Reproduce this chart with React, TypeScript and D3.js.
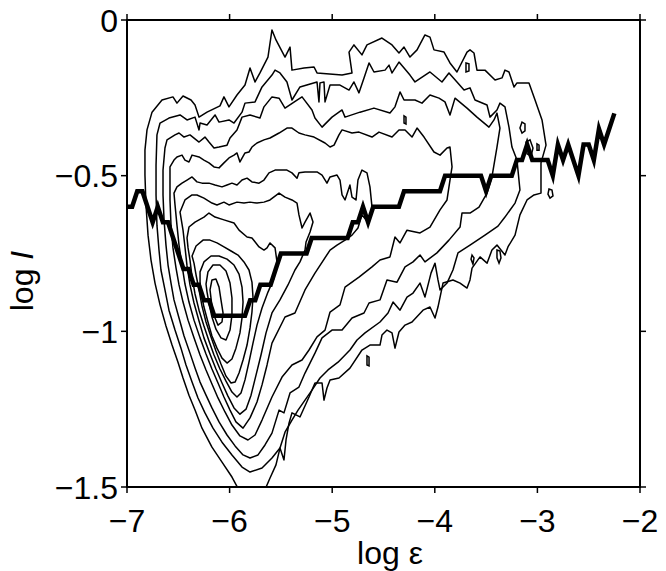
import React from 'react';
import * as d3 from 'd3';

const W = 666;
const H = 571;
const PLOT = { left: 127, right: 640, top: 20, bottom: 487 };

const X_DOMAIN: [number, number] = [-7, -2];
const Y_DOMAIN: [number, number] = [-1.5, 0];
const X_TICKS = [-7, -6, -5, -4, -3, -2];
const Y_TICKS = [0, -0.5, -1, -1.5];
const X_TICK_LABELS = ['\u22127', '\u22126', '\u22125', '\u22124', '\u22123', '\u22122'];
const Y_TICK_LABELS = ['0', '\u22120.5', '\u22121', '\u22121.5'];

// contour loops, [log eps, log I], outermost first
const CONTOUR_1 = [[-6.805,-0.353],[-6.756,-0.296],[-6.659,-0.257],[-6.552,-0.247],[-6.513,-0.267],[-6.454,-0.244],[-6.376,-0.257],[-6.337,-0.273],[-6.298,-0.312],[-6.220,-0.296],[-6.094,-0.276],[-6.055,-0.247],[-6.006,-0.279],[-5.928,-0.241],[-5.850,-0.209],[-5.801,-0.154],[-5.752,-0.199],[-5.704,-0.170],[-5.626,-0.119],[-5.587,-0.032],[-5.548,-0.064],[-5.460,-0.119],[-5.411,-0.087],[-5.392,-0.161],[-5.275,-0.154],[-5.177,-0.151],[-5.148,-0.170],[-4.904,-0.177],[-4.807,-0.170],[-4.836,-0.103],[-4.788,-0.080],[-4.710,-0.112],[-4.661,-0.080],[-4.515,-0.058],[-4.417,-0.080],[-4.349,-0.106],[-4.300,-0.087],[-4.242,-0.119],[-4.173,-0.096],[-4.096,-0.048],[-4.047,-0.055],[-4.008,-0.096],[-3.910,-0.103],[-3.852,-0.138],[-3.784,-0.167],[-3.686,-0.103],[-3.657,-0.096],[-3.618,-0.106],[-3.589,-0.161],[-3.511,-0.161],[-3.413,-0.193],[-3.345,-0.186],[-3.316,-0.161],[-3.277,-0.167],[-3.228,-0.215],[-3.199,-0.202],[-3.082,-0.202],[-3.023,-0.257],[-2.955,-0.321],[-2.916,-0.402],[-2.965,-0.459],[-2.965,-0.556],[-3.033,-0.562],[-3.101,-0.578],[-3.170,-0.626],[-3.218,-0.691],[-3.287,-0.729],[-3.316,-0.755],[-3.394,-0.723],[-3.443,-0.739],[-3.491,-0.781],[-3.559,-0.761],[-3.637,-0.797],[-3.657,-0.835],[-3.686,-0.861],[-3.754,-0.845],[-3.823,-0.835],[-3.920,-0.845],[-3.969,-0.922],[-3.998,-0.957],[-4.047,-0.922],[-4.115,-0.932],[-4.222,-0.970],[-4.290,-0.980],[-4.349,-1.002],[-4.388,-1.054],[-4.417,-1.005],[-4.466,-0.996],[-4.515,-1.012],[-4.534,-1.044],[-4.632,-1.044],[-4.710,-1.060],[-4.827,-1.118],[-4.934,-1.150],[-5.021,-1.156],[-5.051,-1.182],[-5.080,-1.221],[-5.099,-1.166],[-5.168,-1.166],[-5.226,-1.211],[-5.314,-1.275],[-5.392,-1.262],[-5.421,-1.295],[-5.450,-1.349],[-5.470,-1.413],[-5.509,-1.375],[-5.548,-1.429],[-5.606,-1.471],[-5.665,-1.516],[-5.899,-1.516],[-5.977,-1.468],[-6.074,-1.420],[-6.172,-1.372],[-6.269,-1.311],[-6.337,-1.253],[-6.396,-1.205],[-6.454,-1.150],[-6.503,-1.099],[-6.561,-1.044],[-6.620,-0.983],[-6.678,-0.915],[-6.727,-0.845],[-6.766,-0.771],[-6.795,-0.691],[-6.815,-0.594],[-6.825,-0.498],[-6.825,-0.418]];

const CONTOUR_2 = [[-6.708,-0.369],[-6.678,-0.331],[-6.591,-0.315],[-6.483,-0.305],[-6.415,-0.321],[-6.337,-0.312],[-6.298,-0.353],[-6.288,-0.331],[-6.220,-0.337],[-6.142,-0.305],[-6.103,-0.328],[-6.006,-0.321],[-5.957,-0.331],[-5.879,-0.296],[-5.850,-0.267],[-5.752,-0.263],[-5.684,-0.215],[-5.587,-0.177],[-5.557,-0.161],[-5.509,-0.170],[-5.441,-0.199],[-5.392,-0.257],[-5.314,-0.215],[-5.148,-0.199],[-5.129,-0.263],[-5.119,-0.202],[-5.080,-0.199],[-5.070,-0.263],[-5.021,-0.209],[-4.924,-0.209],[-4.836,-0.225],[-4.788,-0.199],[-4.739,-0.234],[-4.690,-0.186],[-4.641,-0.138],[-4.593,-0.167],[-4.485,-0.161],[-4.446,-0.145],[-4.417,-0.170],[-4.349,-0.135],[-4.242,-0.177],[-4.193,-0.199],[-4.047,-0.167],[-3.930,-0.199],[-3.862,-0.170],[-3.784,-0.199],[-3.715,-0.225],[-3.657,-0.218],[-3.608,-0.257],[-3.491,-0.273],[-3.462,-0.312],[-3.394,-0.289],[-3.365,-0.267],[-3.316,-0.279],[-3.277,-0.344],[-3.248,-0.408],[-3.199,-0.450],[-3.170,-0.546],[-3.218,-0.588],[-3.316,-0.633],[-3.384,-0.662],[-3.511,-0.691],[-3.657,-0.723],[-3.774,-0.748],[-3.823,-0.803],[-3.881,-0.845],[-3.949,-0.867],[-3.969,-0.835],[-3.998,-0.781],[-4.037,-0.813],[-4.096,-0.890],[-4.144,-0.845],[-4.212,-0.877],[-4.271,-0.890],[-4.339,-0.932],[-4.407,-0.906],[-4.456,-0.941],[-4.534,-0.970],[-4.680,-1.005],[-4.758,-1.028],[-4.827,-1.060],[-4.943,-1.099],[-5.041,-1.124],[-5.119,-1.150],[-5.197,-1.189],[-5.265,-1.221],[-5.333,-1.253],[-5.392,-1.285],[-5.460,-1.324],[-5.509,-1.375],[-5.587,-1.407],[-5.684,-1.439],[-5.801,-1.452],[-5.879,-1.436],[-5.977,-1.397],[-6.074,-1.356],[-6.162,-1.311],[-6.240,-1.262],[-6.308,-1.214],[-6.366,-1.163],[-6.425,-1.108],[-6.474,-1.054],[-6.532,-0.996],[-6.591,-0.932],[-6.630,-0.867],[-6.669,-0.803],[-6.688,-0.739],[-6.708,-0.659],[-6.717,-0.562],[-6.717,-0.466]];

const CONTOUR_3 = [[-6.630,-0.411],[-6.610,-0.385],[-6.532,-0.369],[-6.493,-0.363],[-6.444,-0.376],[-6.386,-0.369],[-6.298,-0.392],[-6.240,-0.376],[-6.201,-0.392],[-6.152,-0.411],[-6.103,-0.408],[-6.025,-0.402],[-5.996,-0.379],[-5.928,-0.353],[-5.879,-0.312],[-5.801,-0.305],[-5.704,-0.315],[-5.665,-0.279],[-5.587,-0.247],[-5.518,-0.251],[-5.460,-0.283],[-5.343,-0.257],[-5.294,-0.247],[-5.197,-0.289],[-5.168,-0.315],[-5.099,-0.344],[-5.002,-0.312],[-4.904,-0.289],[-4.875,-0.312],[-4.729,-0.296],[-4.593,-0.283],[-4.437,-0.299],[-4.388,-0.279],[-4.339,-0.231],[-4.300,-0.257],[-4.193,-0.257],[-4.125,-0.267],[-4.047,-0.241],[-3.959,-0.251],[-3.901,-0.263],[-3.852,-0.305],[-3.803,-0.251],[-3.686,-0.283],[-3.589,-0.312],[-3.472,-0.344],[-3.423,-0.321],[-3.394,-0.299],[-3.365,-0.347],[-3.394,-0.408],[-3.443,-0.504],[-3.491,-0.556],[-3.569,-0.601],[-3.657,-0.620],[-3.735,-0.620],[-3.754,-0.665],[-3.862,-0.707],[-3.979,-0.748],[-4.096,-0.777],[-4.144,-0.755],[-4.212,-0.777],[-4.290,-0.793],[-4.368,-0.842],[-4.466,-0.835],[-4.534,-0.899],[-4.641,-0.909],[-4.690,-0.941],[-4.807,-0.957],[-4.904,-0.996],[-5.002,-0.996],[-5.099,-1.021],[-5.168,-1.070],[-5.265,-1.134],[-5.324,-1.179],[-5.411,-1.198],[-5.470,-1.262],[-5.518,-1.253],[-5.587,-1.327],[-5.655,-1.365],[-5.723,-1.397],[-5.801,-1.407],[-5.869,-1.397],[-5.947,-1.368],[-6.025,-1.333],[-6.103,-1.291],[-6.172,-1.246],[-6.230,-1.205],[-6.288,-1.163],[-6.337,-1.118],[-6.386,-1.070],[-6.444,-1.015],[-6.493,-0.957],[-6.542,-0.899],[-6.571,-0.845],[-6.600,-0.787],[-6.620,-0.723],[-6.639,-0.642],[-6.649,-0.562],[-6.649,-0.482]];

const CONTOUR_4 = [[-6.581,-0.472],[-6.542,-0.450],[-6.513,-0.440],[-6.464,-0.434],[-6.435,-0.450],[-6.396,-0.456],[-6.366,-0.434],[-6.298,-0.440],[-6.250,-0.450],[-6.201,-0.459],[-6.152,-0.472],[-6.103,-0.475],[-6.055,-0.459],[-6.006,-0.443],[-5.957,-0.434],[-5.928,-0.427],[-5.899,-0.456],[-5.850,-0.427],[-5.811,-0.424],[-5.782,-0.408],[-5.733,-0.395],[-5.665,-0.385],[-5.606,-0.379],[-5.518,-0.363],[-5.441,-0.347],[-5.392,-0.347],[-5.324,-0.363],[-5.265,-0.369],[-5.177,-0.376],[-5.070,-0.395],[-5.021,-0.408],[-4.982,-0.402],[-4.934,-0.369],[-4.904,-0.353],[-4.807,-0.363],[-4.739,-0.360],[-4.612,-0.376],[-4.544,-0.360],[-4.417,-0.376],[-4.349,-0.353],[-4.290,-0.353],[-4.222,-0.376],[-4.173,-0.347],[-4.105,-0.376],[-4.008,-0.424],[-3.949,-0.434],[-3.881,-0.411],[-3.852,-0.408],[-3.832,-0.472],[-3.852,-0.514],[-3.881,-0.578],[-3.949,-0.610],[-4.047,-0.665],[-4.144,-0.684],[-4.271,-0.675],[-4.339,-0.716],[-4.388,-0.697],[-4.437,-0.761],[-4.534,-0.771],[-4.612,-0.793],[-4.739,-0.826],[-4.875,-0.858],[-4.924,-0.915],[-5.021,-0.938],[-5.070,-0.996],[-5.148,-1.018],[-5.226,-1.060],[-5.294,-1.092],[-5.392,-1.108],[-5.489,-1.147],[-5.587,-1.211],[-5.684,-1.285],[-5.752,-1.333],[-5.821,-1.349],[-5.899,-1.336],[-5.977,-1.301],[-6.045,-1.259],[-6.113,-1.214],[-6.172,-1.169],[-6.230,-1.124],[-6.288,-1.076],[-6.347,-1.021],[-6.405,-0.964],[-6.454,-0.906],[-6.493,-0.851],[-6.522,-0.797],[-6.552,-0.732],[-6.571,-0.659],[-6.581,-0.578],[-6.581,-0.514]];

const CONTOUR_5 = [[-6.542,-0.556],[-6.513,-0.536],[-6.464,-0.524],[-6.415,-0.514],[-6.366,-0.504],[-6.318,-0.520],[-6.269,-0.524],[-6.201,-0.524],[-6.142,-0.530],[-6.074,-0.536],[-6.025,-0.530],[-5.977,-0.524],[-5.928,-0.530],[-5.879,-0.514],[-5.830,-0.508],[-5.782,-0.520],[-5.713,-0.524],[-5.665,-0.514],[-5.616,-0.491],[-5.557,-0.482],[-5.441,-0.482],[-5.392,-0.491],[-5.343,-0.508],[-5.324,-0.491],[-5.265,-0.488],[-5.148,-0.488],[-5.099,-0.498],[-5.051,-0.524],[-5.021,-0.504],[-4.953,-0.498],[-4.924,-0.514],[-4.904,-0.562],[-4.875,-0.578],[-4.827,-0.530],[-4.807,-0.569],[-4.768,-0.578],[-4.749,-0.514],[-4.710,-0.482],[-4.661,-0.491],[-4.632,-0.536],[-4.612,-0.601],[-4.651,-0.649],[-4.710,-0.626],[-4.749,-0.668],[-4.807,-0.691],[-4.875,-0.707],[-4.953,-0.723],[-5.021,-0.739],[-5.168,-0.813],[-5.265,-0.867],[-5.363,-0.941],[-5.460,-0.954],[-5.587,-1.038],[-5.635,-1.108],[-5.684,-1.172],[-5.733,-1.227],[-5.801,-1.278],[-5.869,-1.311],[-5.938,-1.291],[-5.996,-1.253],[-6.055,-1.211],[-6.113,-1.166],[-6.172,-1.121],[-6.230,-1.073],[-6.288,-1.021],[-6.347,-0.964],[-6.396,-0.906],[-6.435,-0.848],[-6.464,-0.787],[-6.493,-0.723],[-6.513,-0.659],[-6.532,-0.594]];

const CONTOUR_6 = [[-6.483,-0.617],[-6.435,-0.578],[-6.366,-0.562],[-6.318,-0.562],[-6.250,-0.572],[-6.172,-0.588],[-6.123,-0.594],[-6.055,-0.585],[-6.006,-0.594],[-5.928,-0.585],[-5.860,-0.588],[-5.801,-0.585],[-5.733,-0.588],[-5.665,-0.585],[-5.606,-0.578],[-5.518,-0.556],[-5.460,-0.569],[-5.392,-0.578],[-5.343,-0.588],[-5.324,-0.626],[-5.294,-0.668],[-5.265,-0.649],[-5.216,-0.620],[-5.187,-0.649],[-5.216,-0.681],[-5.255,-0.713],[-5.265,-0.739],[-5.314,-0.777],[-5.363,-0.803],[-5.431,-0.851],[-5.509,-0.899],[-5.587,-0.941],[-5.645,-1.005],[-5.694,-1.076],[-5.742,-1.140],[-5.791,-1.205],[-5.840,-1.250],[-5.899,-1.266],[-5.957,-1.246],[-6.016,-1.208],[-6.074,-1.166],[-6.133,-1.121],[-6.191,-1.073],[-6.250,-1.021],[-6.298,-0.967],[-6.347,-0.909],[-6.386,-0.851],[-6.415,-0.790],[-6.435,-0.729],[-6.454,-0.675]];

const CONTOUR_7 = [[-6.415,-0.700],[-6.396,-0.665],[-6.337,-0.649],[-6.250,-0.633],[-6.201,-0.620],[-6.142,-0.633],[-6.055,-0.642],[-5.957,-0.652],[-5.908,-0.675],[-5.830,-0.697],[-5.782,-0.700],[-5.713,-0.729],[-5.665,-0.739],[-5.635,-0.732],[-5.606,-0.716],[-5.557,-0.732],[-5.538,-0.777],[-5.567,-0.829],[-5.626,-0.874],[-5.684,-0.925],[-5.733,-0.980],[-5.772,-1.038],[-5.811,-1.099],[-5.850,-1.156],[-5.889,-1.198],[-5.928,-1.211],[-5.977,-1.195],[-6.035,-1.160],[-6.094,-1.121],[-6.152,-1.076],[-6.201,-1.031],[-6.250,-0.983],[-6.298,-0.932],[-6.337,-0.880],[-6.366,-0.826],[-6.386,-0.771],[-6.405,-0.732]];

const CONTOUR_8 = [[-6.366,-0.758],[-6.327,-0.726],[-6.259,-0.707],[-6.191,-0.707],[-6.123,-0.716],[-6.055,-0.729],[-5.986,-0.742],[-5.918,-0.755],[-5.860,-0.777],[-5.811,-0.803],[-5.782,-0.842],[-5.772,-0.890],[-5.782,-0.938],[-5.801,-0.989],[-5.830,-1.044],[-5.869,-1.092],[-5.908,-1.134],[-5.947,-1.163],[-5.986,-1.166],[-6.035,-1.144],[-6.084,-1.105],[-6.133,-1.063],[-6.181,-1.018],[-6.230,-0.970],[-6.269,-0.919],[-6.298,-0.867],[-6.327,-0.819],[-6.347,-0.781]];

const CONTOUR_9 = [[-6.288,-0.809],[-6.250,-0.777],[-6.181,-0.758],[-6.103,-0.758],[-6.025,-0.768],[-5.957,-0.787],[-5.908,-0.816],[-5.879,-0.858],[-5.869,-0.906],[-5.879,-0.957],[-5.899,-1.005],[-5.938,-1.054],[-5.977,-1.089],[-6.025,-1.102],[-6.074,-1.086],[-6.123,-1.054],[-6.172,-1.015],[-6.211,-0.970],[-6.250,-0.922],[-6.279,-0.874],[-6.288,-0.842]];

const CONTOUR_10 = [[-6.230,-0.848],[-6.211,-0.809],[-6.162,-0.787],[-6.094,-0.787],[-6.035,-0.806],[-5.996,-0.845],[-5.977,-0.893],[-5.977,-0.948],[-5.996,-0.996],[-6.035,-1.028],[-6.084,-1.021],[-6.133,-0.993],[-6.172,-0.954],[-6.201,-0.909],[-6.220,-0.874]];

const CONTOUR_11 = [[-6.191,-0.867],[-6.172,-0.835],[-6.133,-0.832],[-6.103,-0.858],[-6.084,-0.899],[-6.064,-0.941],[-6.074,-0.970],[-6.113,-0.980],[-6.142,-0.957],[-6.172,-0.919]];

// small isolated islands
const ISLANDS = [
  [[-3.394,-0.739],[-3.365,-0.742],[-3.355,-0.764],[-3.374,-0.781],[-3.394,-0.764]],
  [[-3.637,-0.755],[-3.618,-0.764],[-3.628,-0.784],[-3.647,-0.768]],
  [[-2.887,-0.543],[-2.858,-0.546],[-2.848,-0.565],[-2.877,-0.572],[-2.897,-0.559]],
  [[-3.150,-0.328],[-3.121,-0.334],[-3.121,-0.356],[-3.150,-0.363],[-3.170,-0.347]],
  [[-3.111,-0.392],[-3.072,-0.385],[-3.043,-0.411],[-3.062,-0.437],[-3.101,-0.430]],
  [[-3.004,-0.398],[-2.984,-0.402],[-2.984,-0.418],[-3.004,-0.418]],
  [[-3.696,-0.138],[-3.667,-0.141],[-3.667,-0.164],[-3.696,-0.167]],
  [[-4.300,-0.308],[-4.281,-0.312],[-4.281,-0.334],[-4.300,-0.331]],
  [[-4.661,-1.079],[-4.641,-1.083],[-4.641,-1.111],[-4.661,-1.108]],
];

// thick stepped curve (mode of log I per log eps bin)
const MODE_LOG_EPS = [-7.00,-6.95,-6.90,-6.85,-6.80,-6.75,-6.70,-6.65,-6.60,-6.55,-6.50,-6.45,-6.40,-6.35,-6.30,-6.25,-6.20,-6.15,-6.10,-6.05,-6.00,-5.95,-5.90,-5.85,-5.80,-5.75,-5.70,-5.65,-5.60,-5.55,-5.50,-5.45,-5.40,-5.35,-5.30,-5.25,-5.20,-5.15,-5.10,-5.05,-5.00,-4.95,-4.90,-4.85,-4.80,-4.75,-4.70,-4.65,-4.60,-4.55,-4.50,-4.45,-4.40,-4.35,-4.30,-4.25,-4.20,-4.15,-4.10,-4.05,-4.00,-3.95,-3.90,-3.85,-3.80,-3.75,-3.70,-3.65,-3.60,-3.55,-3.50,-3.45,-3.40,-3.35,-3.30,-3.25,-3.20,-3.15,-3.10,-3.05,-3.00,-2.95,-2.90,-2.85,-2.80,-2.75,-2.70,-2.65,-2.60,-2.55,-2.50,-2.45,-2.40,-2.35,-2.25];
const MODE_LOG_I = [-0.60,-0.60,-0.55,-0.55,-0.60,-0.65,-0.60,-0.65,-0.65,-0.70,-0.75,-0.80,-0.80,-0.85,-0.85,-0.90,-0.90,-0.95,-0.95,-0.95,-0.95,-0.95,-0.95,-0.95,-0.90,-0.90,-0.85,-0.85,-0.85,-0.80,-0.75,-0.75,-0.75,-0.75,-0.75,-0.75,-0.70,-0.70,-0.70,-0.70,-0.70,-0.70,-0.70,-0.70,-0.65,-0.65,-0.60,-0.65,-0.60,-0.60,-0.60,-0.60,-0.60,-0.60,-0.55,-0.55,-0.55,-0.55,-0.55,-0.55,-0.55,-0.55,-0.50,-0.50,-0.50,-0.50,-0.50,-0.50,-0.50,-0.50,-0.55,-0.50,-0.50,-0.50,-0.50,-0.50,-0.45,-0.45,-0.40,-0.45,-0.45,-0.45,-0.45,-0.50,-0.40,-0.45,-0.40,-0.45,-0.50,-0.40,-0.40,-0.45,-0.35,-0.40,-0.30];

const CONTOURS = [CONTOUR_1, CONTOUR_2, CONTOUR_3, CONTOUR_4, CONTOUR_5, CONTOUR_6, CONTOUR_7, CONTOUR_8, CONTOUR_9, CONTOUR_10, CONTOUR_11];

const FONT = '"Liberation Sans", Arial, Helvetica, sans-serif';

export default function App() {
  const x = d3.scaleLinear().domain(X_DOMAIN).range([PLOT.left, PLOT.right]);
  const y = d3.scaleLinear().domain(Y_DOMAIN).range([PLOT.bottom, PLOT.top]);
  const closed = d3.line<number[]>().x((d) => x(d[0])).y((d) => y(d[1])).curve(d3.curveLinearClosed);
  const open = d3.line<number>().x((d, i) => x(MODE_LOG_EPS[i])).y((d) => y(d));
  const tick = 6;

  return (
    <svg width={W} height={H} style={{ position: 'absolute', left: 0, top: 0, display: 'block', background: '#fff' }}>
      <defs>
        <clipPath id="plotclip">
          <rect x={PLOT.left} y={PLOT.top} width={PLOT.right - PLOT.left} height={PLOT.bottom - PLOT.top} />
        </clipPath>
      </defs>
      <rect x={0} y={0} width={W} height={H} fill="#fff" />
      <g clipPath="url(#plotclip)">
        {CONTOURS.map((c, i) => (
          <path key={'c' + i} d={closed(c) || ''} fill="none" stroke="#000" strokeWidth={1.5} strokeLinejoin="round" />
        ))}
        {ISLANDS.map((c, i) => (
          <path key={'i' + i} d={closed(c) || ''} fill="none" stroke="#000" strokeWidth={1.5} />
        ))}
        <path d={open(MODE_LOG_I) || ''} fill="none" stroke="#000" strokeWidth={4.5} strokeLinejoin="miter" strokeMiterlimit={6} />
      </g>
      <rect x={PLOT.left} y={PLOT.top} width={PLOT.right - PLOT.left} height={PLOT.bottom - PLOT.top} fill="none" stroke="#000" strokeWidth={2} />
      {X_TICKS.map((t, i) => (
        <g key={'xt' + i}>
          <line x1={x(t)} x2={x(t)} y1={PLOT.bottom} y2={PLOT.bottom + tick} stroke="#000" strokeWidth={1.5} />
          <line x1={x(t)} x2={x(t)} y1={PLOT.top} y2={PLOT.top - tick} stroke="#000" strokeWidth={1.5} />
          <text x={x(t)} y={532} textAnchor="middle" fontFamily={FONT} fontSize={32} fill="#000">{X_TICK_LABELS[i]}</text>
        </g>
      ))}
      {Y_TICKS.map((t, i) => (
        <g key={'yt' + i}>
          <line x1={PLOT.left} x2={PLOT.left - tick} y1={y(t)} y2={y(t)} stroke="#000" strokeWidth={1.5} />
          <line x1={PLOT.right} x2={PLOT.right + tick} y1={y(t)} y2={y(t)} stroke="#000" strokeWidth={1.5} />
          <text x={118} y={y(t)} dy="0.36em" textAnchor="end" fontFamily={FONT} fontSize={32} fill="#000">{Y_TICK_LABELS[i]}</text>
        </g>
      ))}
      <text x={390} y={564} textAnchor="middle" fontFamily={FONT} fontSize={32} fill="#000">log ε</text>
      <text transform="translate(33,281) rotate(-90)" textAnchor="middle" fontFamily={FONT} fontSize={32} fill="#000">
        log <tspan fontStyle="italic">I</tspan>
      </text>
    </svg>
  );
}
